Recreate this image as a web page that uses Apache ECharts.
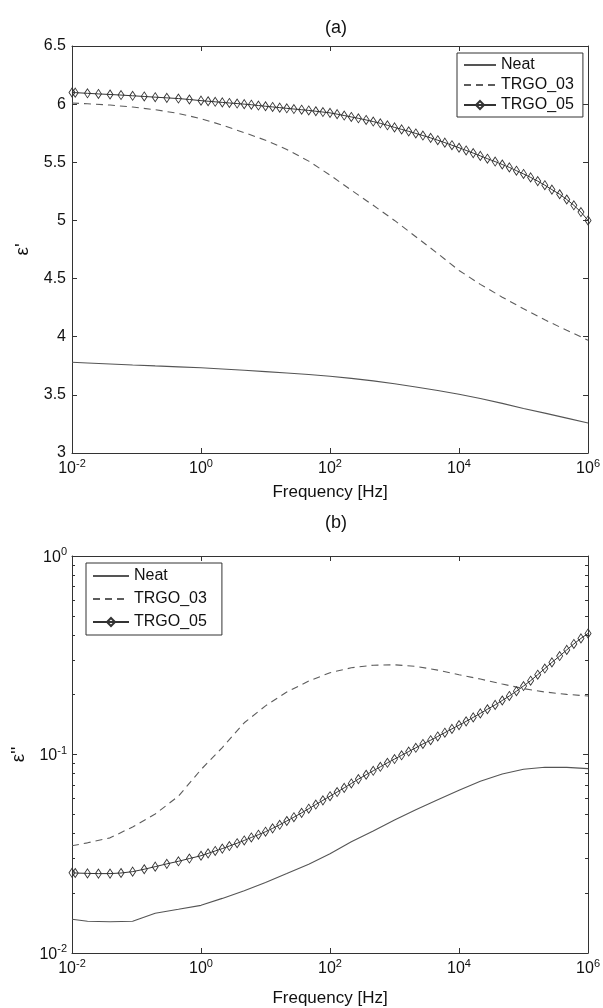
<!DOCTYPE html>
<html>
<head>
<meta charset="utf-8">
<title>Dielectric spectra</title>
<script src="https://cdn.jsdelivr.net/npm/echarts@6.0.0/dist/echarts.min.js"></script>
<style>
html, body { margin: 0; padding: 0; background: #fff; }
#main { width: 603px; height: 1008px; }
</style>
</head>
<body>
<div id="main"></div>
<script>
// log10(frequency) for the plain curves (Neat, TRGO_03)
var lineExp = [-2, -1.76, -1.41, -1.06, -0.71, -0.35, 0, 0.33, 0.67, 1, 1.33, 1.67, 2,
  2.33, 2.67, 3, 3.33, 3.67, 4, 4.33, 4.67, 5, 5.33, 5.67, 6];
// log10(frequency) of the TRGO_05 points (one marker each)
var markExp = [-2, -1.95, -1.76, -1.59, -1.41, -1.24, -1.06, -0.88, -0.71, -0.53, -0.35, -0.18, 0,
  0.11, 0.22, 0.33, 0.44, 0.56, 0.67, 0.78, 0.89, 1,
  1.11, 1.22, 1.33, 1.44, 1.56, 1.67, 1.78, 1.89, 2,
  2.11, 2.22, 2.33, 2.44, 2.56, 2.67, 2.78, 2.89, 3,
  3.11, 3.22, 3.33, 3.44, 3.56, 3.67, 3.78, 3.89, 4,
  4.11, 4.22, 4.33, 4.44, 4.56, 4.67, 4.78, 4.89, 5,
  5.11, 5.22, 5.33, 5.44, 5.56, 5.67, 5.78, 5.89, 6];

// (a) real part
var neatEps1 = [3.780, 3.774, 3.766, 3.757, 3.749, 3.741, 3.733, 3.723, 3.712, 3.700, 3.688, 3.675, 3.660,
  3.642, 3.620, 3.595, 3.567, 3.537, 3.505, 3.468, 3.427, 3.383, 3.343, 3.300, 3.258];
var trgo03Eps1 = [6.010, 6.003, 5.992, 5.975, 5.952, 5.920, 5.875, 5.820, 5.755, 5.690, 5.610, 5.510, 5.390,
  5.260, 5.130, 5.000, 4.860, 4.715, 4.570, 4.450, 4.340, 4.240, 4.145, 4.055, 3.970];
var trgo05Eps1 = [6.100, 6.099, 6.093, 6.088, 6.083, 6.078, 6.072, 6.066, 6.060, 6.054, 6.048, 6.040, 6.030,
  6.025, 6.020, 6.015, 6.010, 6.005, 6.000, 5.995, 5.988, 5.982,
  5.976, 5.970, 5.964, 5.958, 5.952, 5.946, 5.939, 5.932, 5.925,
  5.914, 5.902, 5.890, 5.878, 5.864, 5.850, 5.835, 5.818, 5.800,
  5.783, 5.766, 5.748, 5.730, 5.710, 5.690, 5.669, 5.647, 5.625,
  5.602, 5.579, 5.555, 5.531, 5.506, 5.481, 5.456, 5.428, 5.400,
  5.370, 5.338, 5.303, 5.265, 5.225, 5.180, 5.130, 5.072, 5.000];

// (b) imaginary part
var neatEps2 = [0.01479, 0.01445, 0.01436, 0.01445, 0.01585, 0.01660, 0.01738, 0.01884, 0.02061, 0.02265,
  0.02512, 0.02799, 0.03162, 0.03631, 0.04121, 0.04677, 0.05272, 0.05916, 0.06607, 0.07328,
  0.07980, 0.08433, 0.08630, 0.08610, 0.08492];
var trgo03Eps2 = [0.03467, 0.03589, 0.03802, 0.04315, 0.05012, 0.06166, 0.08395, 0.1084, 0.1445, 0.1758,
  0.2065, 0.2344, 0.2582, 0.2735, 0.2818, 0.2831, 0.2780, 0.2661, 0.2523, 0.2399,
  0.2265, 0.2148, 0.2065, 0.2009, 0.1972];
var trgo05Eps2 = [0.02535, 0.02529, 0.02518, 0.02512, 0.02512, 0.02529, 0.02570, 0.02642, 0.02723, 0.02812, 0.02897, 0.02992, 0.03090,
  0.03177, 0.03266, 0.03357, 0.03459, 0.03573, 0.03690, 0.03819, 0.03945, 0.04083,
  0.04246, 0.04426, 0.04624, 0.04831, 0.05082, 0.05333, 0.05598, 0.05875, 0.06166,
  0.06471, 0.06792, 0.07145, 0.07516, 0.07907, 0.08279, 0.08670, 0.09078, 0.09484,
  0.09908, 0.1035, 0.1081, 0.1130, 0.1180, 0.1233, 0.1288, 0.1346, 0.1406,
  0.1469, 0.1538, 0.1611, 0.1690, 0.1778, 0.1871, 0.1972, 0.2084, 0.2213,
  0.2355, 0.2523, 0.2710, 0.2911, 0.3133, 0.3365, 0.3606, 0.3846, 0.4074];

var names = ['Neat', 'TRGO_03', 'TRGO_05'];
var freqTicks = [0.01, 1, 100, 10000, 1000000];
var eps2Ticks = [0.01, 0.1, 1];
var eps2Minor = [0.02, 0.03, 0.04, 0.05, 0.06, 0.07, 0.08, 0.09, 0.2, 0.3, 0.4, 0.5, 0.6, 0.7, 0.8, 0.9];

var FONT = 'Liberation Sans, Arial, Helvetica, sans-serif';
var AX = '#333';
var NOFILL = 'rgba(255,255,255,0)';

function pairs(exps, vals) {
	return exps.map(function (e, i) { return [Math.pow(10, e), vals[i]]; });
}

function pow10(v) {
	var e = Math.round(Math.log(v) / Math.LN10);
	return '{b|10}{s|' + e + '}';
}
var powRich = {
	b: { fontSize: 16, fontFamily: FONT, color: '#111', verticalAlign: 'bottom' },
	s: { fontSize: 11, fontFamily: FONT, color: '#111', verticalAlign: 'bottom', padding: [0, 0, 8, 0] }
};

function freqAxis(grid, pos, labels) {
	return {
		type: 'log', gridIndex: grid, position: pos, min: 0.01, max: 1000000,
		axisLine: { show: true, onZero: false, lineStyle: { color: AX, width: 1 } },
		axisTick: { show: true, inside: true, length: 5, customValues: freqTicks, lineStyle: { color: AX } },
		axisLabel: { show: labels, customValues: freqTicks, formatter: pow10, rich: powRich, margin: 5 },
		splitLine: { show: false },
		name: labels ? 'Frequency [Hz]' : '',
		nameLocation: 'middle', nameGap: grid === 0 ? 31 : 37,
		nameTextStyle: { fontSize: 17, fontFamily: FONT, color: '#111' }
	};
}

function epsAxis(pos, labels) {
	return {
		type: 'value', gridIndex: 0, position: pos, min: 3, max: 6.5, interval: 0.5,
		axisLine: { show: true, onZero: false, lineStyle: { color: AX, width: 1 } },
		axisTick: { show: true, inside: true, length: 5, lineStyle: { color: AX } },
		axisLabel: { show: labels, fontSize: 16, fontFamily: FONT, color: '#111', margin: 6 },
		splitLine: { show: false },
		name: labels ? "ε'" : '', nameLocation: 'middle', nameGap: 40, nameRotate: 90,
		nameTextStyle: { fontSize: 19, fontFamily: FONT, color: '#111' }
	};
}

function lossAxis(pos, labels, minor) {
	return {
		type: 'log', gridIndex: 1, position: pos, min: 0.01, max: 1,
		axisLine: { show: !minor, onZero: false, lineStyle: { color: AX, width: 1 } },
		axisTick: { show: true, inside: true, length: minor ? 3 : 5,
			customValues: minor ? eps2Minor : eps2Ticks, lineStyle: { color: AX } },
		axisLabel: { show: labels, customValues: eps2Ticks, formatter: pow10, rich: powRich, margin: 5 },
		splitLine: { show: false },
		name: labels ? "ε''" : '', nameLocation: 'middle', nameGap: 38, nameRotate: 90,
		nameTextStyle: { fontSize: 19, fontFamily: FONT, color: '#111' }
	};
}

function neat(x, y, data) {
	return { name: 'Neat', type: 'line', xAxisIndex: x, yAxisIndex: y, data: data,
		symbol: 'none', itemStyle: { color: NOFILL, borderWidth: 0 },
		lineStyle: { color: '#555', width: 1.1, type: 'solid' } };
}
function trgo03(x, y, data) {
	return { name: 'TRGO_03', type: 'line', xAxisIndex: x, yAxisIndex: y, data: data,
		symbol: 'none', itemStyle: { color: NOFILL, borderWidth: 0 },
		lineStyle: { color: '#5c5c5c', width: 1.1, type: [7, 5] } };
}
function trgo05(x, y, data) {
	return { name: 'TRGO_05', type: 'line', xAxisIndex: x, yAxisIndex: y, data: data,
		symbol: 'diamond', symbolSize: [6, 9], showAllSymbol: true,
		itemStyle: { color: NOFILL, borderColor: '#333', borderWidth: 0.9 },
		lineStyle: { color: '#333', width: 1 } };
}

function legendAt(left, top, width, gap, pad) {
	return {
		left: left, top: top, orient: 'vertical', data: names, selectedMode: false,
		itemWidth: width, itemHeight: 10, itemGap: gap, padding: pad,
		borderColor: AX, borderWidth: 1, backgroundColor: '#fff',
		textStyle: { fontSize: 16, lineHeight: 16, fontFamily: FONT, color: '#111' }
	};
}

var chart = echarts.init(document.getElementById('main'), null, { renderer: 'canvas' });
chart.setOption({
	animation: false,
	backgroundColor: '#fff',
	title: [
		{ text: '(a)', left: 331, top: 14, textAlign: 'center',
			textStyle: { fontSize: 18, fontWeight: 'normal', fontFamily: FONT, color: '#111' } },
		{ text: '(b)', left: 331, top: 509, textAlign: 'center',
			textStyle: { fontSize: 18, fontWeight: 'normal', fontFamily: FONT, color: '#111' } }
	],
	grid: [
		{ left: 72, top: 46, width: 518, height: 407 },
		{ left: 72, top: 556, width: 518, height: 404 }
	],
	legend: [
		legendAt(457, 53, 32, 4, [4, 9, 4, 6]),
		legendAt(86, 563, 36, 7, [5, 15, 5, 6])
	],
	xAxis: [freqAxis(0, 'bottom', true), freqAxis(0, 'top', false),
		freqAxis(1, 'bottom', true), freqAxis(1, 'top', false)],
	yAxis: [epsAxis('left', true), epsAxis('right', false),
		lossAxis('left', true, false), lossAxis('right', false, false),
		lossAxis('left', false, true), lossAxis('right', false, true)],
	series: [
		neat(0, 0, pairs(lineExp, neatEps1)),
		trgo03(0, 0, pairs(lineExp, trgo03Eps1)),
		trgo05(0, 0, pairs(markExp, trgo05Eps1)),
		neat(2, 2, pairs(lineExp, neatEps2)),
		trgo03(2, 2, pairs(lineExp, trgo03Eps2)),
		trgo05(2, 2, pairs(markExp, trgo05Eps2))
	]
});
</script>
</body>
</html>
